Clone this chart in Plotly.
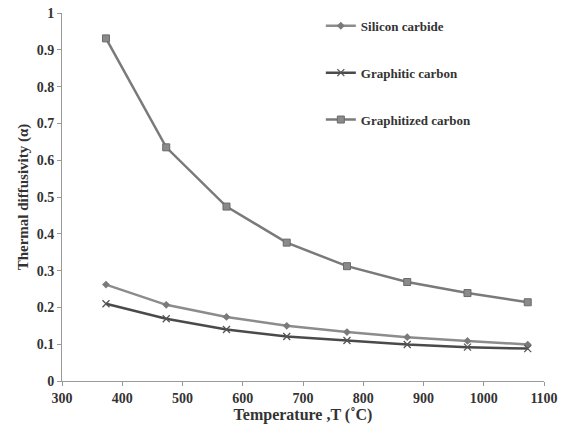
import plotly.graph_objects as go

temps = [373, 473, 573, 673, 773, 873, 973, 1073]
silicon_carbide = [0.262, 0.207, 0.174, 0.150, 0.133, 0.119, 0.109, 0.099]
graphitic_carbon = [0.210, 0.169, 0.140, 0.121, 0.110, 0.099, 0.092, 0.088]
graphitized_carbon = [0.931, 0.635, 0.474, 0.376, 0.312, 0.269, 0.239, 0.214]

x_ticks = [300, 400, 500, 600, 700, 800, 900, 1000, 1100]
y_ticks = [0, 0.1, 0.2, 0.3, 0.4, 0.5, 0.6, 0.7, 0.8, 0.9, 1]
y_labels = ["0", "0.1", "0.2", "0.3", "0.4", "0.5", "0.6", "0.7", "0.8", "0.9", "1"]

font_family = "Liberation Serif, Times New Roman, serif"

fig = go.Figure()
fig.add_trace(go.Scatter(
    x=temps, y=silicon_carbide, name="<b>Silicon carbide</b>", mode="lines+markers",
    line=dict(color="#8c8c8c", width=2.5), legendgroup="a",
    marker=dict(symbol="diamond", size=6, color="#7a7a7a")))
fig.add_trace(go.Scatter(
    x=temps, y=graphitic_carbon, name="<b>Graphitic carbon</b>", mode="lines+markers",
    line=dict(color="#4a4a4a", width=2.5), legendgroup="b",
    marker=dict(symbol="x-thin", size=7, color="#555555", line=dict(width=1.3, color="#555555"))))
fig.add_trace(go.Scatter(
    x=temps, y=graphitized_carbon, name="<b>Graphitized carbon</b>", mode="lines+markers",
    line=dict(color="#7a7a7a", width=2.5), legendgroup="c",
    marker=dict(symbol="square", size=7, color="#8a8a8a", line=dict(width=1, color="#6a6a6a"))))

fig.update_layout(
    width=561, height=438,
    margin=dict(l=62, r=17, t=13, b=57, autoexpand=False),
    paper_bgcolor="white", plot_bgcolor="white",
    font=dict(family=font_family, color="#333333"),
    showlegend=True,
    legend=dict(x=0.537, y=1.006, xanchor="left", yanchor="top",
                bgcolor="rgba(0,0,0,0)", tracegroupgap=27,
                font=dict(size=13, family=font_family, color="#333333"),
                itemwidth=30),
    xaxis=dict(range=[300, 1100], tickvals=x_ticks, ticktext=["<b>%d</b>" % v for v in x_ticks],
               showgrid=False, zeroline=False, showline=True, linecolor="#999999", linewidth=1,
               ticks="outside", ticklen=4, tickcolor="#999999", automargin=False,
               tickfont=dict(size=14, family=font_family, color="#333333"),
               title=dict(text="<b>Temperature ,T (˚C)</b>", font=dict(size=16, family=font_family, color="#333333"), standoff=2)),
    yaxis=dict(range=[0, 1], tickvals=y_ticks, ticktext=["<b>%s</b>" % s for s in y_labels],
               showgrid=False, zeroline=False, showline=True, linecolor="#999999", linewidth=1,
               ticks="outside", ticklen=4, tickcolor="#999999", automargin=False,
               tickfont=dict(size=14, family=font_family, color="#333333"),
               title=dict(text="<b>Thermal diffusivity (α)</b>", font=dict(size=15, family=font_family, color="#333333"), standoff=4)),
)

fig.write_html("out.html")
